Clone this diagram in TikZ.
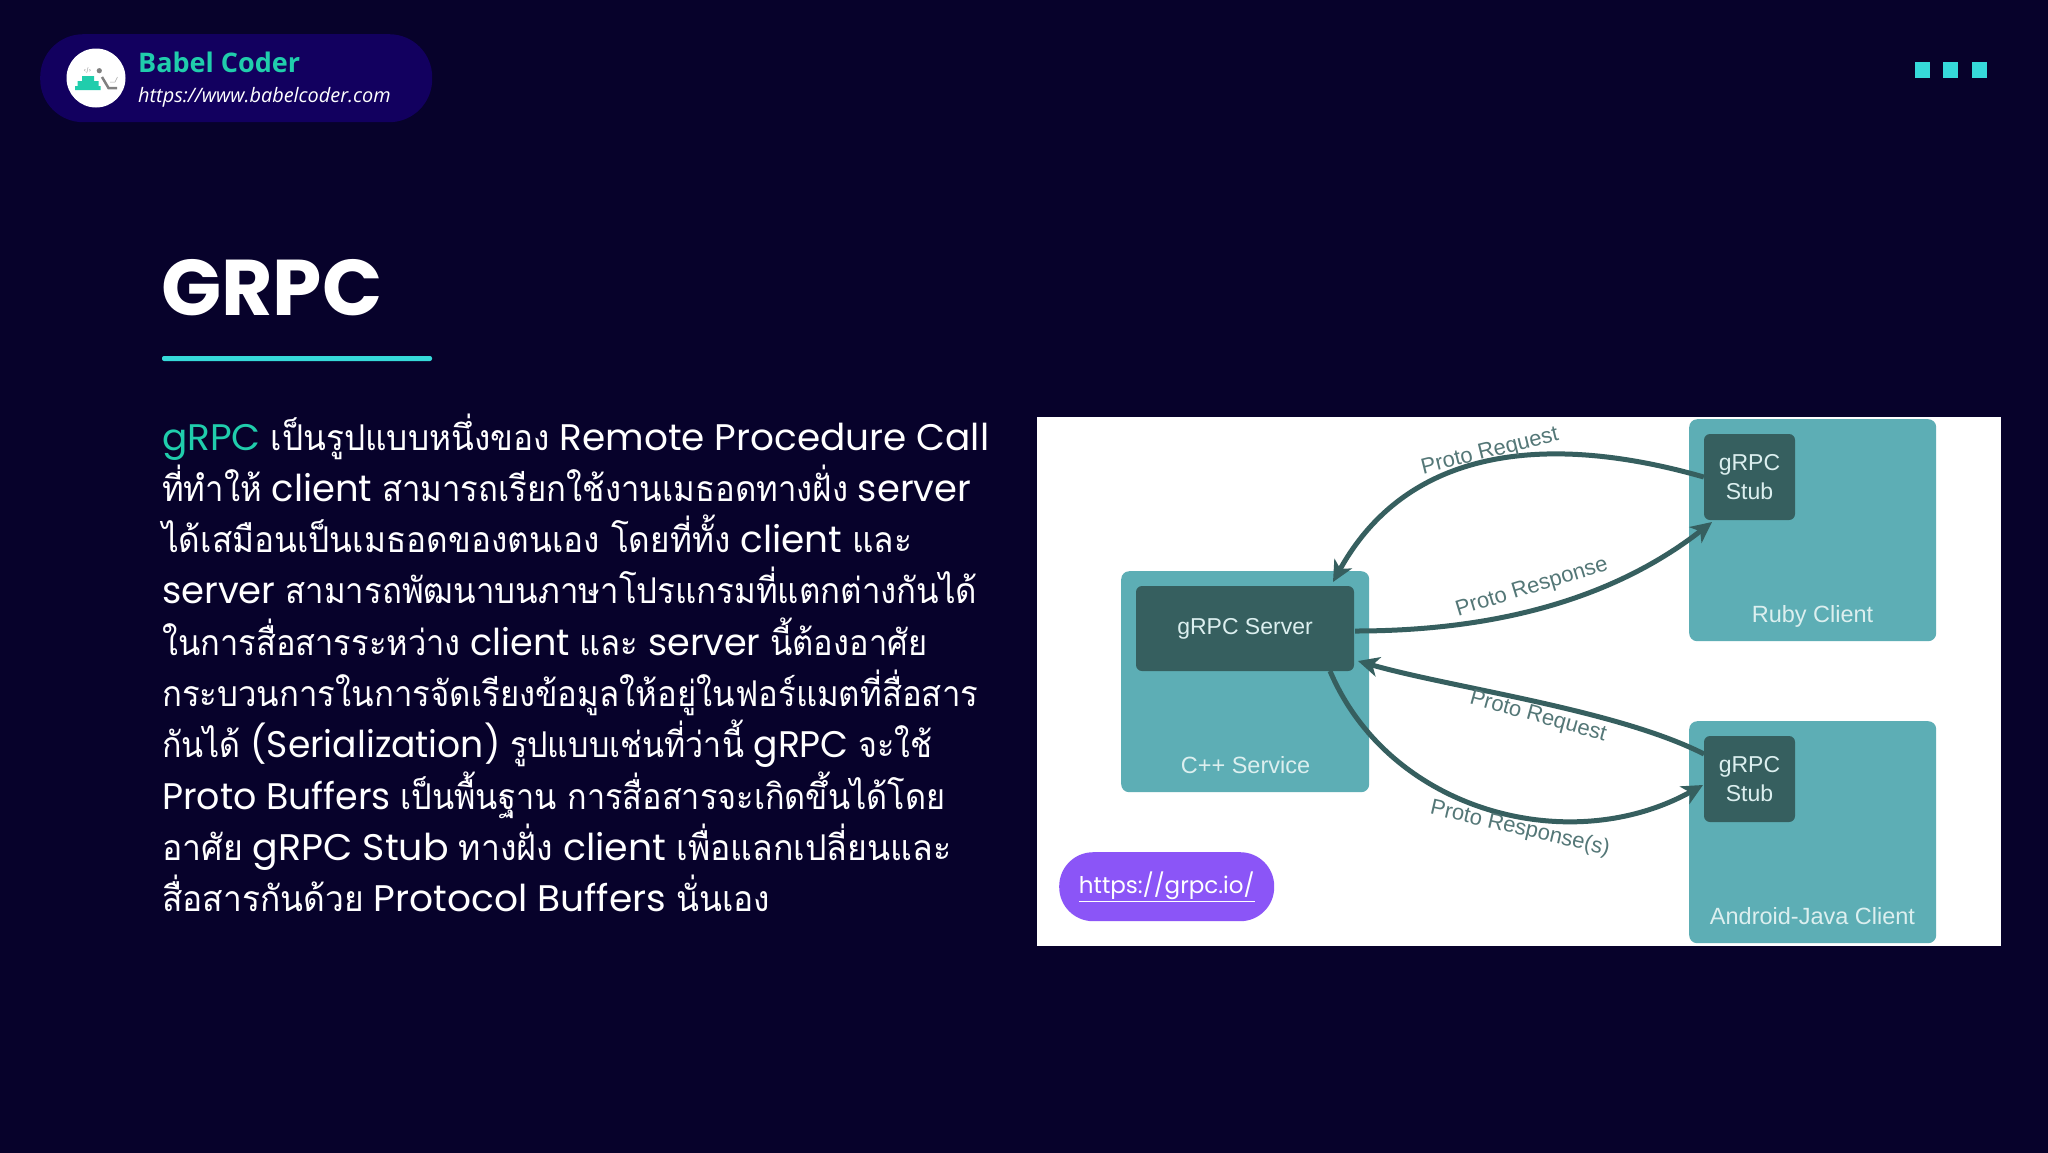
\documentclass[tikz,border=0pt]{standalone}
\usepackage{graphicx}
\usepackage{fontspec}
\setmainfont{Poppins}
\newfontfamily\thaifont[Script=Thai,Scale=0.96,FakeStretch=0.93]{Loma}
\newfontfamily\opensans{Open Sans}
\newfontfamily\labelfont{Liberation Sans}
\newcommand{\thai}[1]{{\thaifont #1}}
\newcommand{\fitline}[2]{\resizebox{#1pt}{\height}{#2}}
\usetikzlibrary{arrows.meta}
\definecolor{pagebg}{HTML}{07022B}
\definecolor{pillbg}{HTML}{12005F}
\definecolor{brandteal}{HTML}{20CDAC}
\definecolor{accent}{HTML}{36DADA}
\definecolor{boxteal}{HTML}{5DAEB5}
\definecolor{stubdark}{HTML}{365F5F}
\definecolor{linkpurple}{HTML}{8B55F7}
\definecolor{boxtext}{HTML}{DCEFEF}
\begin{document}
\begin{tikzpicture}[x=1pt,y=-1pt,>={Stealth[length=21pt,width=20pt,inset=6pt]},
  body line/.style={anchor=base west,inner sep=0pt,text=white,font=\fontsize{37}{37}\selectfont},
  service box/.style={fill=boxteal,rounded corners=8pt,inner sep=0pt,anchor=north west},
  inner box/.style={fill=stubdark,rounded corners=6pt,inner sep=0pt,text=boxtext,align=center,font=\labelfont\fontsize{23}{29}\selectfont},
  box label/.style={text=boxtext,inner sep=0pt,font=\labelfont\fontsize{23.5}{23.5}\selectfont},
  proto label/.style={text=stubdark!85,inner sep=0pt,font=\labelfont\fontsize{22}{22}\selectfont},
  flow/.style={->,draw=stubdark,line width=5pt}]
  \useasboundingbox (0,0) rectangle (2048,1152);
  \fill[pagebg] (-2,-2) rectangle (2050,1154);

  \node[fill=pillbg,rounded corners=43pt,minimum width=392pt,minimum height=88pt,inner sep=0pt,anchor=north west] (pill) at (40,34) {};
  \node[circle,fill=white,minimum size=59pt,inner sep=0pt] (logo) at (96,78) {};
  \fill[brandteal] (75,86) rectangle (100.5,90) (77.5,81) rectangle (98.5,86) (82,76) rectangle (94,81);
  \node[text=gray,inner sep=0pt,font=\fontsize{5}{5}\selectfont] (code) at (87.5,70.5) {</>};
  \fill[gray] (99.3,70.7) circle (2.6);
  \draw[gray,line width=2.5pt] (102,77) -- (108.5,88) -- (117,88);
  \draw[gray!70,line width=.5pt] (110,82) -- (115,82) -- (117.5,77);
  \node[anchor=base west,inner sep=0pt,text=brandteal,font=\opensans\bfseries\fontsize{27}{27}\selectfont] (brand) at (138,72) {Babel Coder};
  \node[anchor=base west,inner sep=0pt,text=white,font=\opensans\itshape\fontsize{19.9}{19.9}\selectfont] (site) at (138,102) {https://www.babelcoder.com};

  \foreach \x in {1915,1943,1972}
    \fill[accent] (\x,62) rectangle +(15,16);

  \node[anchor=base west,inner sep=0pt,text=white,font=\bfseries\fontsize{79}{79}\selectfont] (title) at (161,315) {GRPC};
  \fill[accent,rounded corners=2pt] (162,356) rectangle (432,361);

  \node[body line] (l1) at (162,450) {\fitline{827}{{\color{brandteal}gRPC} \thai{เป็นรูปแบบหนึ่งของ} Remote Procedure Call}};
  \node[body line] (l2) at (162,501) {\fitline{809}{\thai{ที่ทำให้} client \thai{สามารถเรียกใช้งานเมธอดทางฝั่ง} server}};
  \node[body line] (l3) at (162,552) {\fitline{750}{\thai{ได้เสมือนเป็นเมธอดของตนเอง โดยที่ทั้ง} client \thai{และ}}};
  \node[body line] (l4) at (162,603) {\fitline{815}{server \thai{สามารถพัฒนาบนภาษาโปรแกรมที่แตกต่างกันได้}}};
  \node[body line] (l5) at (162,655) {\fitline{765}{\thai{ในการสื่อสารระหว่าง} client \thai{และ} server \thai{นี้ต้องอาศัย}}};
  \node[body line] (l6) at (162,706) {\fitline{816}{\thai{กระบวนการในการจัดเรียงข้อมูลให้อยู่ในฟอร์แมตที่สื่อสาร}}};
  \node[body line] (l7) at (162,757) {\fitline{770}{\thai{กันได้} (Serialization) \thai{รูปแบบเช่นที่ว่านี้} gRPC \thai{จะใช้}}};
  \node[body line] (l8) at (162,809) {\fitline{783}{Proto Buffers \thai{เป็นพื้นฐาน การสื่อสารจะเกิดขึ้นได้โดย}}};
  \node[body line] (l9) at (162,860) {\fitline{789}{\thai{อาศัย} gRPC Stub \thai{ทางฝั่ง} client \thai{เพื่อแลกเปลี่ยนและ}}};
  \node[body line] (l10) at (162,911) {\fitline{608}{\thai{สื่อสารกันด้วย} Protocol Buffers \thai{นั่นเอง}}};

  \fill[white] (1037,417) rectangle (2001,946);
  \node[service box,minimum width=248pt,minimum height=221pt] (service) at (1121,571) {};
  \node[service box,minimum width=247pt,minimum height=222pt] (ruby) at (1689,419) {};
  \node[service box,minimum width=247pt,minimum height=222pt] (android) at (1689,721) {};
  \node[inner box,minimum width=218pt,minimum height=85pt] (server) at (1245,628.5) {\raisebox{-1pt}{gRPC Server}};
  \node[inner box,minimum width=91pt,minimum height=86pt] (stub1) at (1749.5,477) {gRPC\\Stub};
  \node[inner box,minimum width=91pt,minimum height=86pt] (stub2) at (1749.5,779) {gRPC\\Stub};
  \node[box label] (cpp) at (1245.5,765) {C++ Service};
  \node[box label] (rubylabel) at (1812.5,616) {Ruby Client};
  \node[box label] (androidlabel) at (1812.5,916) {Android-Java Client};

  \coordinate (srvtop) at (1333,582);
  \coordinate (srvbottom) at (1330,671);
  \coordinate (srvright) at (1355,631);
  \coordinate (srvside) at (1358,661);
  \coordinate (stubcorner) at (1712,522);
  \coordinate (stubtop) at (1704,754);
  \coordinate (stubside) at (1703,785);
  \path[every edge/.style=flow]
    (stub1.west) edge [out=164,in=61,out looseness=.79,in looseness=1.19] (srvtop)
    (srvright) edge [out=0,in=218,looseness=.9] (stubcorner)
    (stubtop) edge [out=153,in=-16,looseness=.7] (srvside)
    (srvbottom) edge [out=-67,in=209,looseness=1] (stubside);

  \node[proto label,rotate=14] (req1) at (1490,452) {Proto Request};
  \node[proto label,rotate=17] (res1) at (1532,588) {Proto Response};
  \node[proto label,rotate=-15.5] (req2) at (1538,717) {Proto Request};
  \node[proto label,rotate=-13] (res2) at (1520,829) {Proto Response(s)};

  \node[fill=linkpurple,rounded corners=34pt,minimum width=215pt,minimum height=69pt,inner sep=0pt,anchor=north west] (link) at (1059,852) {};
  \node[text=white,inner sep=0pt,font=\fontsize{23}{23}\selectfont] (linktext) at (link.center) {\underline{https://grpc.io/}};
\end{tikzpicture}
\end{document}
